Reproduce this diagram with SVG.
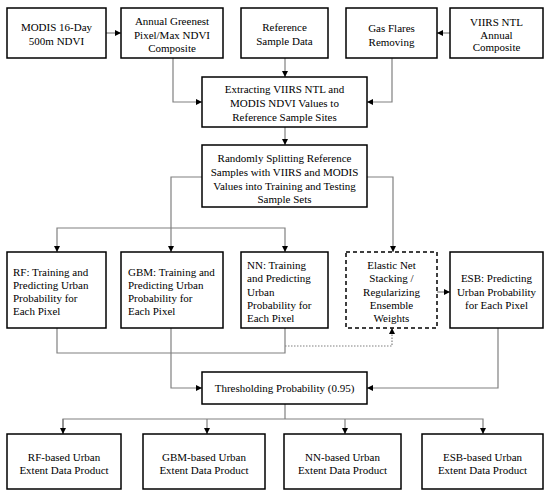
<svg xmlns="http://www.w3.org/2000/svg" width="550" height="496" viewBox="0 0 550 496">
<style>
.box{fill:#fff;stroke:#000;stroke-width:1.5}
.dash{stroke-dasharray:4,3}
.c{fill:none;stroke:#808080;stroke-width:1.2}
.dot{stroke-dasharray:1.5,1.5}
.m{text-anchor:middle}
</style>
<defs>
<marker id="ah" viewBox="0 0 6 6" refX="6" refY="3" markerWidth="6" markerHeight="6" markerUnits="userSpaceOnUse" orient="auto">
<path d="M0,0 L6,3 L0,6 z" fill="#000"/>
</marker>
</defs>
<rect width="550" height="496" fill="#fff"/>
<g id="connectors">
<path class="c" d="M106,33 H121" marker-end="url(#ah)"/>
<path class="c" d="M450,33 H437" marker-end="url(#ah)"/>
<path class="c" d="M173,58 V102 H202" marker-end="url(#ah)"/>
<path class="c" d="M285,58 V77" marker-end="url(#ah)"/>
<path class="c" d="M392,58 V102 H367" marker-end="url(#ah)"/>
<path class="c" d="M285,127 V145" marker-end="url(#ah)"/>
<path class="c" d="M202,177 H171 V252" marker-end="url(#ah)"/>
<path class="c" d="M171,228 H57 V252" marker-end="url(#ah)"/>
<path class="c" d="M171,228 H285 V252" marker-end="url(#ah)"/>
<path class="c" d="M367,177 H393 V252" marker-end="url(#ah)"/>
<path class="c" d="M57,328 V353 H285 V328"/>
<path class="c dot" d="M285,346 H392 V328" marker-end="url(#ah)"/>
<path class="c" d="M437,292 H450" marker-end="url(#ah)"/>
<path class="c" d="M171,328 V388 H202" marker-end="url(#ah)"/>
<path class="c" d="M498,328 V388 H367" marker-end="url(#ah)"/>
<path class="c" d="M285,404 V419"/>
<path class="c" d="M63,434 V419 H483 V434" marker-end="url(#ah)"/>
<path class="c" d="M63,419 V434" marker-end="url(#ah)"/>
<path class="c" d="M207,419 V434" marker-end="url(#ah)"/>
<path class="c" d="M345,419 V434" marker-end="url(#ah)"/>
</g>
<g font-family="'Liberation Serif', 'Times New Roman', Times, serif" font-size="11" fill="#000">
<g id="modis"><rect class="box" x="7" y="8" width="99" height="50"/>
<text class="m" x="56.5" y="31">MODIS 16-Day</text><text class="m" x="56.5" y="45">500m NDVI</text></g>
<g id="annual"><rect class="box" x="121" y="8" width="102" height="50"/>
<text class="m" x="172" y="25">Annual Greenest</text><text class="m" x="172" y="38.5">Pixel/Max NDVI</text><text class="m" x="172" y="52">Composite</text></g>
<g id="reference"><rect class="box" x="241" y="8" width="87" height="50"/>
<text class="m" x="284.5" y="31">Reference</text><text class="m" x="284.5" y="45">Sample Data</text></g>
<g id="gasflares"><rect class="box" x="346" y="8" width="91" height="50"/>
<text class="m" x="391.5" y="32">Gas Flares</text><text class="m" x="391.5" y="46">Removing</text></g>
<g id="viirs"><rect class="box" x="450" y="8" width="93" height="50"/>
<text class="m" x="496.5" y="26">VIIRS NTL</text><text class="m" x="496.5" y="38.5">Annual</text><text class="m" x="496.5" y="51">Composite</text></g>
<g id="extracting"><rect class="box" x="202" y="77" width="165" height="50"/>
<text class="m" x="284.5" y="93">Extracting VIIRS NTL and</text><text class="m" x="284.5" y="107">MODIS NDVI Values to</text><text class="m" x="284.5" y="121">Reference Sample Sites</text></g>
<g id="randomly"><rect class="box" x="202" y="145" width="165" height="62"/>
<text class="m" x="284.5" y="162">Randomly Splitting Reference</text><text class="m" x="284.5" y="176">Samples with VIIRS and MODIS</text><text class="m" x="284.5" y="189.5">Values into Training and Testing</text><text class="m" x="284.5" y="202.5">Sample Sets</text></g>
<g id="rf"><rect class="box" x="7" y="252" width="99" height="76"/>
<text x="13" y="276">RF: Training and</text><text x="13" y="289">Predicting Urban</text><text x="13" y="302">Probability for</text><text x="13" y="315">Each Pixel</text></g>
<g id="gbm"><rect class="box" x="121" y="252" width="102" height="76"/>
<text x="128" y="276">GBM: Training and</text><text x="128" y="289">Predicting Urban</text><text x="128" y="302">Probability for</text><text x="128" y="315">Each Pixel</text></g>
<g id="nn"><rect class="box" x="241" y="252" width="87" height="76"/>
<text x="247" y="269">NN: Training</text><text x="247" y="282">and Predicting</text><text x="247" y="295.5">Urban</text><text x="247" y="309">Probability for</text><text x="247" y="322">Each Pixel</text></g>
<g id="elastic"><rect class="box dash" x="346" y="252" width="91" height="76"/>
<text class="m" x="391.5" y="269">Elastic Net</text><text class="m" x="391.5" y="282">Stacking /</text><text class="m" x="391.5" y="295.5">Regularizing</text><text class="m" x="391.5" y="309">Ensemble</text><text class="m" x="391.5" y="322">Weights</text></g>
<g id="esb"><rect class="box" x="450" y="252" width="93" height="76"/>
<text class="m" x="496.5" y="282">ESB: Predicting</text><text class="m" x="496.5" y="295.5">Urban Probability</text><text class="m" x="496.5" y="309">for Each Pixel</text></g>
<g id="threshold"><rect class="box" x="202" y="372" width="165" height="32"/>
<text class="m" x="284.5" y="392">Thresholding Probability (0.95)</text></g>
<g id="rfout"><rect class="box" x="7" y="434" width="114" height="55"/>
<text class="m" x="64" y="461">RF-based Urban</text><text class="m" x="64" y="474">Extent Data Product</text></g>
<g id="gbmout"><rect class="box" x="143" y="434" width="122" height="55"/>
<text class="m" x="204" y="461">GBM-based Urban</text><text class="m" x="204" y="474">Extent Data Product</text></g>
<g id="nnout"><rect class="box" x="284" y="434" width="117" height="55"/>
<text class="m" x="342.5" y="461">NN-based Urban</text><text class="m" x="342.5" y="474">Extent Data Product</text></g>
<g id="esbout"><rect class="box" x="422" y="434" width="121" height="55"/>
<text class="m" x="482.5" y="461">ESB-based Urban</text><text class="m" x="482.5" y="474">Extent Data Product</text></g>
</g>
</svg>
